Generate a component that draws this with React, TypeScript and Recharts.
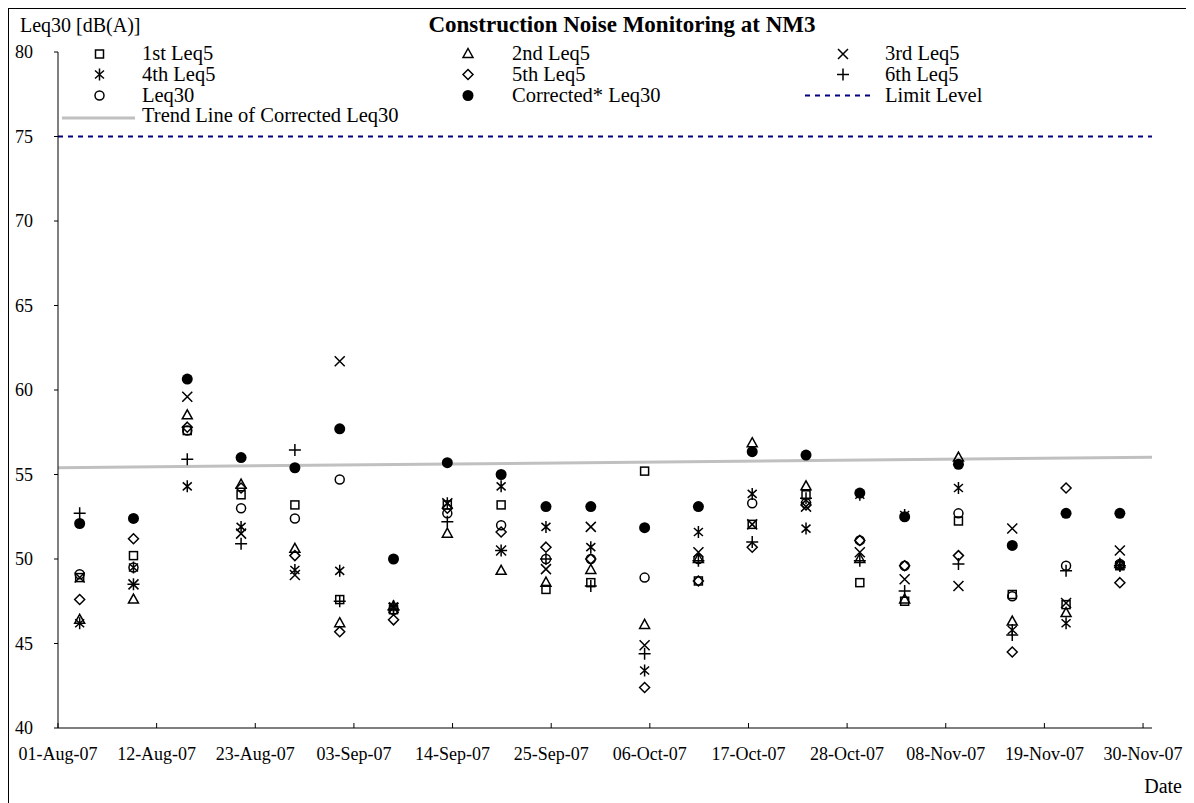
import React from 'react';
import { ComposedChart, Scatter, Line, XAxis, YAxis } from 'recharts';

// ---------- data ----------
const measurementDates = [
  '03-Aug-07', '09-Aug-07', '15-Aug-07', '21-Aug-07', '27-Aug-07', '01-Sep-07', '07-Sep-07',
  '13-Sep-07', '19-Sep-07', '24-Sep-07', '29-Sep-07', '05-Oct-07', '11-Oct-07', '17-Oct-07',
  '23-Oct-07', '29-Oct-07', '03-Nov-07', '09-Nov-07', '15-Nov-07', '21-Nov-07', '27-Nov-07',
];
const measurementHour = 10;

const leq5First = [48.9, 50.2, 57.6, 53.8, 53.2, 47.6, 47.0, 53.2, 53.2, 48.2, 48.6, 55.2, 48.7, 52.05, 53.8, 48.6, 47.5, 52.25, 47.9, 47.3, 49.6];
const leq5Second = [46.4, 47.6, 58.5, 54.4, 50.6, 46.2, 47.2, 51.5, 49.3, 48.6, 49.35, 46.1, 50.0, 56.85, 54.3, 50.0, 47.6, 56.0, 46.3, 46.8, 49.7];
const leq5Third = [48.9, 48.5, 59.6, 51.5, 49.05, 61.7, 47.1, 53.3, 50.5, 49.4, 51.9, 44.9, 50.4, 52.05, 53.1, 50.4, 48.8, 48.4, 51.8, 47.4, 50.5];
const leq5Fourth = [46.2, 49.5, 54.3, 51.9, 49.35, 49.3, 47.2, 53.3, 54.3, 51.9, 50.7, 43.4, 51.6, 53.85, 51.8, 53.8, 52.6, 54.2, 45.8, 46.2, 49.6];
const leq5Fifth = [47.6, 51.2, 57.8, 54.2, 50.2, 45.7, 46.4, 53.0, 51.6, 50.7, 50.0, 42.4, 48.7, 50.7, 53.2, 51.1, 49.6, 50.2, 44.5, 54.2, 48.6];
const leq5Sixth = [52.7, 48.5, 55.9, 50.9, 56.45, 47.5, 47.0, 52.2, 50.5, 50.0, 48.4, 44.4, 49.9, 51.0, 53.6, 49.9, 48.1, 49.7, 45.5, 49.3, 49.6];
const leq30 = [49.1, 49.5, 57.6, 53.0, 52.4, 54.7, 47.0, 52.7, 52.0, 50.0, 50.0, 48.9, 50.0, 53.3, 53.3, 51.1, 49.6, 52.7, 47.8, 49.6, 49.7];
const correctedLeq30 = [52.1, 52.4, 60.65, 56.0, 55.4, 57.7, 50.0, 55.7, 55.0, 53.1, 53.1, 51.85, 53.1, 56.35, 56.15, 53.9, 52.5, 55.6, 50.8, 52.7, 52.7];

const lineDates = ['01-Aug-07', '01-Dec-07'];
const trendValues = [55.4, 56.02];
const limitValues = [75, 75];

const xTickLabels = [
  '01-Aug-07', '12-Aug-07', '23-Aug-07', '03-Sep-07', '14-Sep-07', '25-Sep-07',
  '06-Oct-07', '17-Oct-07', '28-Oct-07', '08-Nov-07', '19-Nov-07', '30-Nov-07',
];
const yTicks = [40, 45, 50, 55, 60, 65, 70, 75, 80];

// ---------- helpers ----------
const MONTHS = ['Jan', 'Feb', 'Mar', 'Apr', 'May', 'Jun', 'Jul', 'Aug', 'Sep', 'Oct', 'Nov', 'Dec'];
const ORIGIN = Date.UTC(2007, 7, 1);
function dayOf(label: string): number {
  const [d, m, y] = label.split('-');
  const t = Date.UTC(2000 + Number(y), MONTHS.indexOf(m), Number(d));
  return (t - ORIGIN) / 86400000;
}
const xTicks = xTickLabels.map(dayOf);
const tickLabelByDay: Record<number, string> = {};
xTickLabels.forEach((l) => { tickLabelByDay[dayOf(l)] = l; });

const pts = (vals: number[]) =>
  vals.map((v, i) => ({ x: dayOf(measurementDates[i]) + measurementHour / 24, y: v }));
const linePts = (vals: number[]) => vals.map((v, i) => ({ x: dayOf(lineDates[i]), y: v }));

const FONT = '"Liberation Serif", "Times New Roman", Times, serif';
const SW = 1.5;

type Kind = 'square' | 'triangle' | 'x' | 'star' | 'diamond' | 'plus' | 'circle' | 'dot';

function Marker({ kind, cx, cy }: { kind: Kind; cx: number; cy: number }) {
  const common = { fill: 'none', stroke: '#000', strokeWidth: SW };
  switch (kind) {
    case 'square':
      return <rect x={cx - 4} y={cy - 4} width={8} height={8} {...common} />;
    case 'triangle':
      return <path d={`M${cx},${cy - 5.5}L${cx + 5},${cy + 3.5}L${cx - 5},${cy + 3.5}Z`} {...common} />;
    case 'x':
      return <path d={`M${cx - 5},${cy - 5}L${cx + 5},${cy + 5}M${cx - 5},${cy + 5}L${cx + 5},${cy - 5}`} {...common} />;
    case 'star':
      return (
        <path
          d={`M${cx - 4.5},${cy - 4}L${cx + 4.5},${cy + 4}M${cx - 4.5},${cy + 4}L${cx + 4.5},${cy - 4}M${cx},${cy - 6}L${cx},${cy + 6}`}
          {...common}
        />
      );
    case 'diamond':
      return <path d={`M${cx},${cy - 5}L${cx + 5},${cy}L${cx},${cy + 5}L${cx - 5},${cy}Z`} {...common} />;
    case 'plus':
      return <path d={`M${cx - 6},${cy}L${cx + 6},${cy}M${cx},${cy - 6}L${cx},${cy + 6}`} {...common} />;
    case 'circle':
      return <circle cx={cx} cy={cy} r={4.5} {...common} />;
    case 'dot':
    default:
      return <circle cx={cx} cy={cy} r={5.5} fill="#000" stroke="none" />;
  }
}

const series: { name: string; kind: Kind; values: number[] }[] = [
  { name: '1st Leq5', kind: 'square', values: leq5First },
  { name: '2nd Leq5', kind: 'triangle', values: leq5Second },
  { name: '3rd Leq5', kind: 'x', values: leq5Third },
  { name: '4th Leq5', kind: 'star', values: leq5Fourth },
  { name: '5th Leq5', kind: 'diamond', values: leq5Fifth },
  { name: '6th Leq5', kind: 'plus', values: leq5Sixth },
  { name: 'Leq30', kind: 'circle', values: leq30 },
  { name: 'Corrected* Leq30', kind: 'dot', values: correctedLeq30 },
];

const XTick = (props: any) => {
  const { x, y, payload } = props;
  return (
    <g>
      <line x1={x} x2={x} y1={y} y2={y - 5} stroke="#000" strokeWidth={1} />
      <text x={x} y={y + 32} textAnchor="middle" fontFamily={FONT} fontSize={18} fill="#000">
        {tickLabelByDay[payload.value]}
      </text>
    </g>
  );
};

const W = 1180;
const H = 800;

// legend layout (positions only)
const colMarkerX = [90.5, 459, 834];
const colTextX = [133, 503, 876];
const rowCenterY = [45, 65.5, 86.5, 109];
const rowBaseY = [51, 71.5, 92.5, 113];

export default function App() {
  const grid: (null | { label: string; kind?: Kind; line?: 'trend' | 'limit' })[][] = [
    [
      { label: series[0].name, kind: series[0].kind },
      { label: series[1].name, kind: series[1].kind },
      { label: series[2].name, kind: series[2].kind },
    ],
    [
      { label: series[3].name, kind: series[3].kind },
      { label: series[4].name, kind: series[4].kind },
      { label: series[5].name, kind: series[5].kind },
    ],
    [
      { label: series[6].name, kind: series[6].kind },
      { label: series[7].name, kind: series[7].kind },
      { label: 'Limit Level', line: 'limit' },
    ],
    [{ label: 'Trend Line of Corrected Leq30', line: 'trend' }, null, null],
  ];

  return (
    <div style={{ position: 'relative', width: W, height: H, border: '1px solid #000', background: '#fff' }}>
      <ComposedChart width={W} height={H} margin={{ top: 43, right: 37, bottom: 41, left: 0 }}>
        <XAxis
          dataKey="x"
          type="number"
          domain={[0, 122]}
          ticks={xTicks}
          allowDataOverflow
          tickLine={false}
          tickSize={0}
          tickMargin={0}
          height={40}
          axisLine={{ stroke: '#000', strokeWidth: 1 }}
          tick={<XTick />}
          interval={0}
        />
        <YAxis
          type="number"
          domain={[40, 80]}
          ticks={yTicks}
          width={49}
          tickSize={4}
          tickMargin={21}
          interval={0}
          axisLine={{ stroke: '#000', strokeWidth: 1 }}
          tickLine={{ stroke: '#000', strokeWidth: 1 }}
          tick={{ fontFamily: FONT, fontSize: 18, fill: '#000' }}
        />
        {series.map((s) => (
          <Scatter
            key={s.name}
            name={s.name}
            data={pts(s.values)}
            dataKey="y"
            isAnimationActive={false}
            shape={(p: any) => <Marker kind={s.kind} cx={p.cx} cy={p.cy} />}
          />
        ))}
        <Line
          data={linePts(limitValues)}
          dataKey="y"
          type="linear"
          stroke="#000080"
          strokeWidth={2}
          strokeDasharray="5 5"
          dot={false}
          activeDot={false}
          isAnimationActive={false}
        />
        <Line
          data={linePts(trendValues)}
          dataKey="y"
          type="linear"
          stroke="#c0c0c0"
          strokeWidth={3}
          dot={false}
          activeDot={false}
          isAnimationActive={false}
        />
      </ComposedChart>
      <svg
        width={W}
        height={H}
        style={{ position: 'absolute', left: 0, top: 0, pointerEvents: 'none' }}
      >
        <text x={613} y={23} textAnchor="middle" fontFamily={FONT} fontWeight="bold" fontSize={23} fill="#000">
          Construction Noise Monitoring at NM3
        </text>
        <text x={11} y={23} fontFamily={FONT} fontSize={20} fill="#000">
          Leq30 [dB(A)]
        </text>
        <text x={1173} y={784} textAnchor="end" fontFamily={FONT} fontSize={20} fill="#000">
          Date
        </text>
        {grid.map((row, r) =>
          row.map((item, c) => {
            if (!item) return null;
            return (
              <g key={`${r}-${c}`}>
                {item.kind && <Marker kind={item.kind} cx={colMarkerX[c]} cy={rowCenterY[r]} />}
                {item.line === 'limit' && (
                  <line x1={796} x2={866} y1={rowCenterY[r]} y2={rowCenterY[r]} stroke="#000080" strokeWidth={2} strokeDasharray="5 5" />
                )}
                {item.line === 'trend' && (
                  <line x1={53} x2={126} y1={rowCenterY[r]} y2={rowCenterY[r]} stroke="#c0c0c0" strokeWidth={3} />
                )}
                <text x={colTextX[c]} y={rowBaseY[r]} fontFamily={FONT} fontSize={20.5} fill="#000">
                  {item.label}
                </text>
              </g>
            );
          })
        )}
      </svg>
    </div>
  );
}
